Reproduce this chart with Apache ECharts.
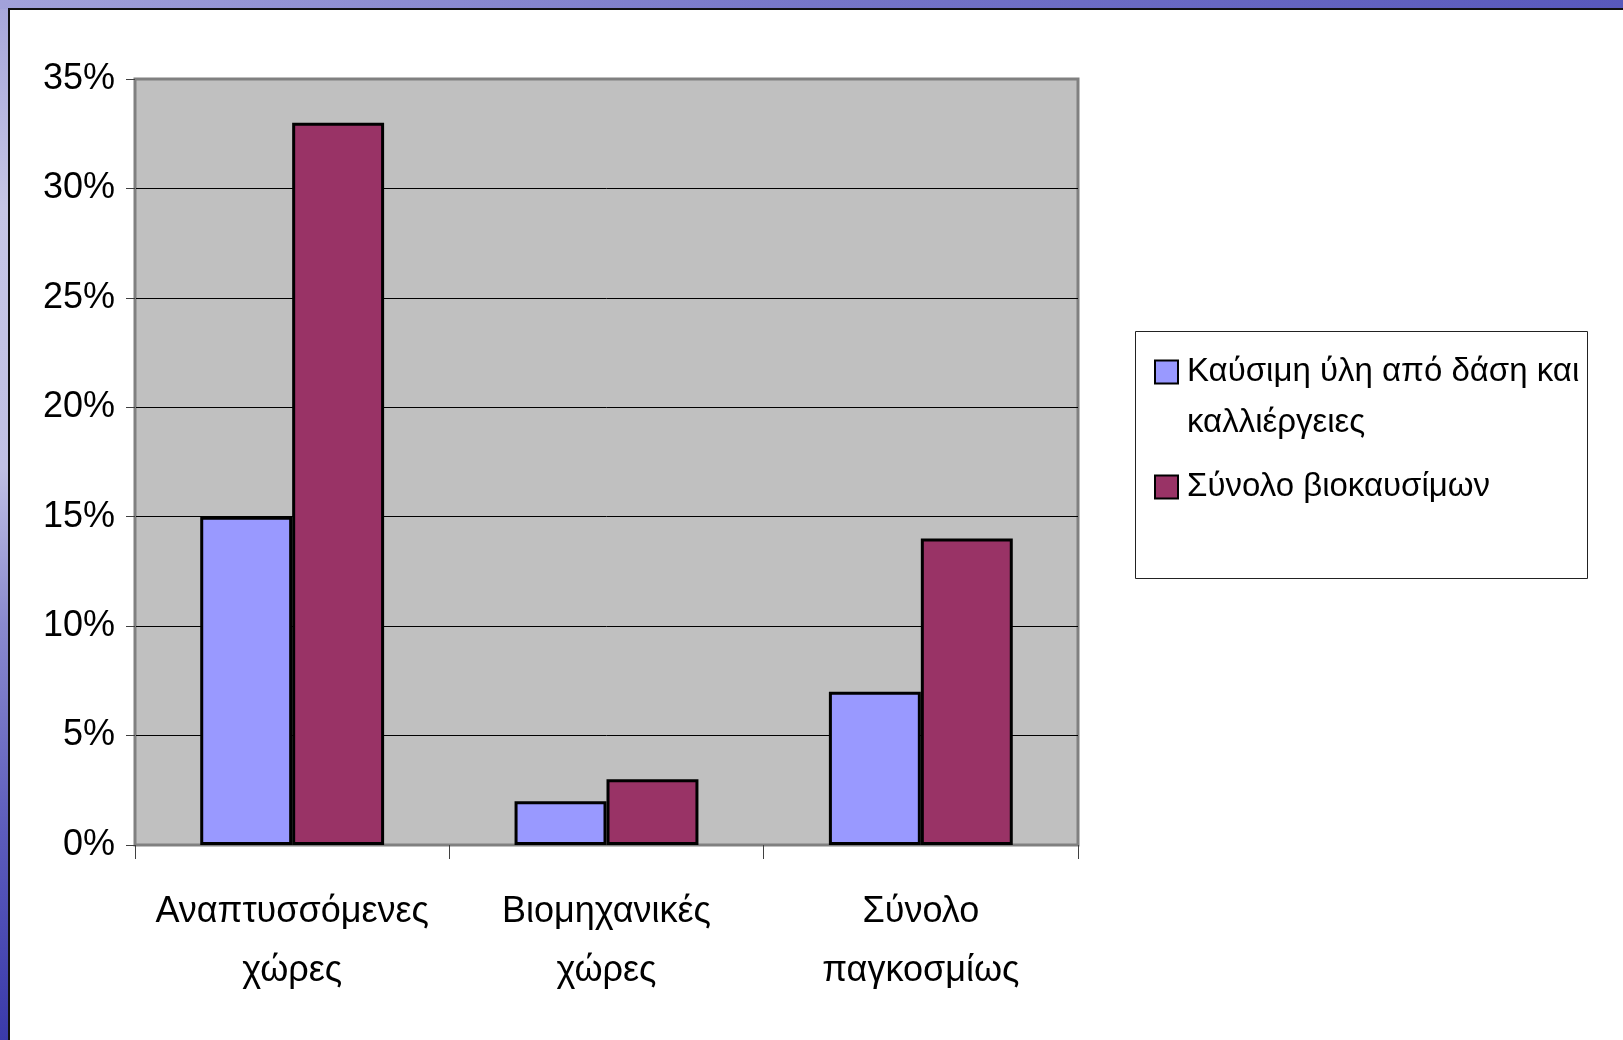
<!DOCTYPE html>
<html>
<head>
<meta charset="utf-8">
<title>Βιοκαύσιμα</title>
<script src="https://cdn.jsdelivr.net/npm/echarts@6/dist/echarts.min.js"></script>
<style>
  html, body { margin: 0; padding: 0; width: 1623px; height: 1040px; overflow: hidden; }
  #chart { width: 1623px; height: 1040px; }
</style>
</head>
<body>
<div id="chart"></div>
<script>
// Categories shown along the x axis
const categories = ['Αναπτυσσόμενες\nχώρες', 'Βιομηχανικές\nχώρες', 'Σύνολο\nπαγκοσμίως'];
// Series names
const seriesNames = ['Καύσιμη ύλη από δάση και καλλιέργειες', 'Σύνολο βιοκαυσίμων'];
// Values in percent
const forestCropFuel = [15, 2, 7];
const totalBiofuels = [33, 3, 14];
// Value axis range
const yMin = 0;
const yMax = 35;
const yStep = 5;

const colors = ['#9999FF', '#993366'];
const FONT = '"Liberation Sans", Arial, sans-serif';
const LEGEND_LINE = 51;

const chart = echarts.init(document.getElementById('chart'), null, { renderer: 'canvas' });

const option = {
  animation: false,
  backgroundColor: '#ffffff',
  graphic: [
    {
      type: 'rect', z: -100, silent: true,
      shape: { x: 0, y: 0, width: 1623, height: 1040 },
      style: {
        fill: new echarts.graphic.LinearGradient(0, 0, 0, 1, [
          { offset: 0, color: '#a6a6da' },
          { offset: 0.2, color: '#c6c6e6' },
          { offset: 0.45, color: '#c0c0e4' },
          { offset: 0.6, color: '#8a8ace' },
          { offset: 0.8, color: '#5c5cbc' },
          { offset: 1, color: '#3a3aaa' }
        ])
      }
    },
    {
      type: 'rect', z: -99, silent: true,
      shape: { x: 0, y: 0, width: 1623, height: 9 },
      style: {
        fill: new echarts.graphic.LinearGradient(0, 0, 1, 0, [
          { offset: 0, color: '#a2a2da' },
          { offset: 0.5, color: '#7676c8' },
          { offset: 1, color: '#5858bc' }
        ])
      }
    },
    {
      type: 'rect', z: -98, silent: true,
      shape: { x: 9, y: 9, width: 1630, height: 1050 },
      style: { fill: '#ffffff', stroke: '#111111', lineWidth: 2 }
    },
    {
      // legend frame
      type: 'rect', z: -97, silent: true,
      shape: { x: 1135.5, y: 331.5, width: 452, height: 247 },
      style: { fill: '#ffffff', stroke: '#222222', lineWidth: 1 }
    }
  ],
  grid: {
    left: 135, right: 545, top: 79, bottom: 195,
    show: true,
    backgroundColor: '#C0C0C0',
    borderColor: '#808080',
    borderWidth: 3
  },
  legend: [
    {
      // two-line entry: a leading empty line keeps the first text line level with the swatch
      orient: 'vertical',
      left: 1154, top: 372 - 1.5 * LEGEND_LINE,
      padding: 0,
      icon: 'rect',
      itemWidth: 23, itemHeight: 23,
      data: [seriesNames[0]],
      selectedMode: false,
      itemStyle: { borderColor: '#000', borderWidth: 2 },
      formatter: name => '\n' + name.replace('και ', 'και\n'),
      textStyle: {
        fontFamily: FONT, fontSize: 33, color: '#000',
        lineHeight: LEGEND_LINE, padding: [0, 0, 0, 4]
      }
    },
    {
      orient: 'vertical',
      left: 1154, top: 487 - 0.5 * LEGEND_LINE,
      padding: 0,
      icon: 'rect',
      itemWidth: 23, itemHeight: 23,
      data: [seriesNames[1]],
      selectedMode: false,
      itemStyle: { borderColor: '#000', borderWidth: 2 },
      textStyle: {
        fontFamily: FONT, fontSize: 33, color: '#000',
        lineHeight: LEGEND_LINE, padding: [0, 0, 0, 4]
      }
    }
  ],
  xAxis: {
    type: 'category',
    data: categories,
    axisLine: { show: true, lineStyle: { color: '#808080', width: 2 } },
    axisTick: { show: true, length: 14, lineStyle: { color: '#404040', width: 1 } },
    axisLabel: {
      fontFamily: FONT, fontSize: 36, color: '#000',
      lineHeight: 59, margin: 38, interval: 0
    },
    splitLine: { show: false }
  },
  yAxis: {
    type: 'value',
    min: yMin, max: yMax, interval: yStep,
    axisLine: { show: true, lineStyle: { color: '#808080', width: 2 } },
    axisTick: { show: true, length: 9, lineStyle: { color: '#404040', width: 1 } },
    axisLabel: {
      fontFamily: FONT, fontSize: 36, color: '#000', margin: 20,
      formatter: '{value}%'
    },
    splitLine: {
      show: true, showMinLine: false, showMaxLine: false,
      lineStyle: { color: '#000', width: 1 }
    }
  },
  series: [
    {
      name: seriesNames[0],
      type: 'bar',
      data: forestCropFuel,
      barGap: '0%',
      barCategoryGap: '41.5%',
      itemStyle: { color: colors[0], borderColor: '#000', borderWidth: 3 }
    },
    {
      name: seriesNames[1],
      type: 'bar',
      data: totalBiofuels,
      barGap: '0%',
      barCategoryGap: '41.5%',
      itemStyle: { color: colors[1], borderColor: '#000', borderWidth: 3 }
    }
  ]
};

chart.setOption(option);
</script>
</body>
</html>
